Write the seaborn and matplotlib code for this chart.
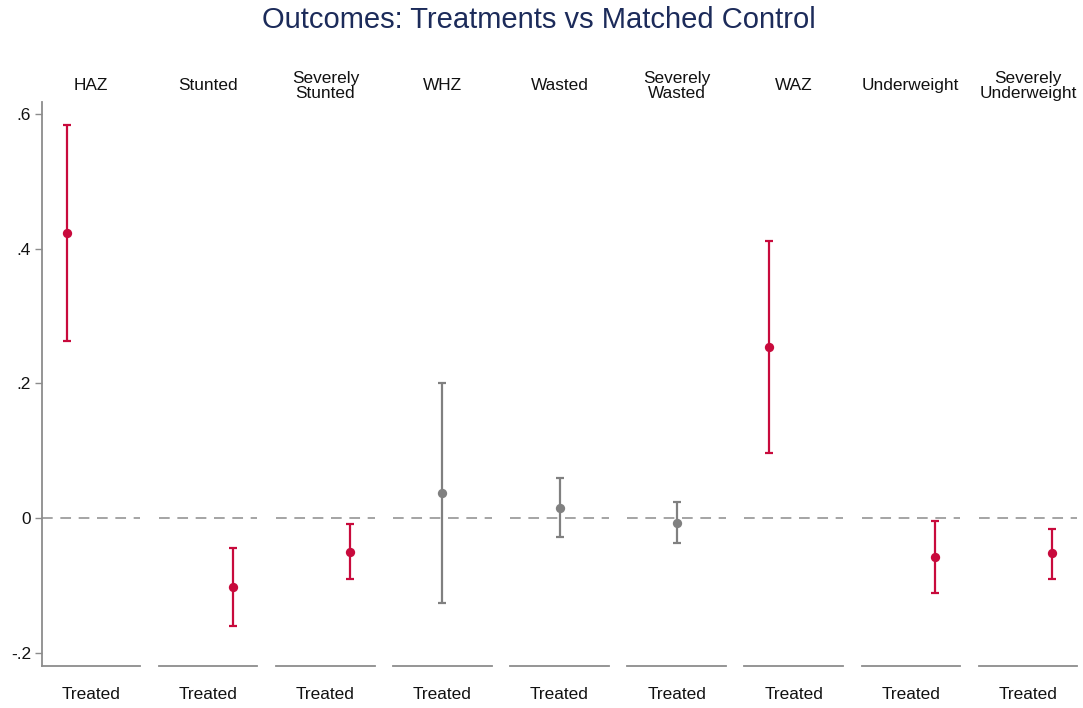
import numpy as np
import pandas as pd
import matplotlib
matplotlib.use("Agg")
import matplotlib.pyplot as plt
import seaborn as sns

# Outcome labels (panel titles), point estimates and 95% confidence bounds
outcomes = ["HAZ", "Stunted", "Severely\nStunted", "WHZ", "Wasted",
            "Severely\nWasted", "WAZ", "Underweight", "Severely\nUnderweight"]
estimates = [0.423, -0.1025, -0.0505, 0.037, 0.0153, -0.0069, 0.254, -0.0574, -0.0525]
ci_low = [0.263, -0.160, -0.0906, -0.1267, -0.0287, -0.0371, 0.0965, -0.111, -0.090]
ci_high = [0.5835, -0.0445, -0.0094, 0.200, 0.0594, 0.0238, 0.411, -0.004, -0.0158]
# Significance group of each estimate
groups = ["pos", "neg", "neg", "ns", "ns", "ns", "pos", "neg", "neg"]
treatment_label = "Treated"
y_ticks = [-0.2, 0, 0.2, 0.4, 0.6]
y_ticklabels = ["-.2", "0", ".2", ".4", ".6"]
title = "Outcomes: Treatments vs Matched Control"

df = pd.DataFrame({"outcome": outcomes, "est": estimates, "lo": ci_low,
                   "hi": ci_high, "group": groups})

sns.set_theme(style="white")
plt.rcParams["font.family"] = ["Liberation Sans", "DejaVu Sans"]

RED = "#C80A3C"
GRAY = "#808080"
AXIS_GRAY = "#8C8C8C"
TEXT = "#111111"
FS = 12.4
colors = {"pos": RED, "neg": RED, "ns": GRAY}
offsets = {"pos": -0.25, "neg": 0.25, "ns": 0.0}

fig, axes = plt.subplots(1, len(outcomes), sharey=True, figsize=(10.83, 7.08), dpi=100)
fig.subplots_adjust(left=0.0388, right=0.9945, top=0.856, bottom=0.0597, wspace=0.19)

for ax, (_, row) in zip(axes, df.iterrows()):
    xpos = offsets[row["group"]]
    col = colors[row["group"]]
    sub = pd.DataFrame({"x": [xpos], "y": [row["est"]]})
    ax.axhline(0, color=AXIS_GRAY, lw=1.1, ls=(0, (7, 5)), zorder=1)
    ax.errorbar([xpos], [row["est"]],
                yerr=[[row["est"] - row["lo"]], [row["hi"] - row["est"]]],
                fmt="none", ecolor=col, elinewidth=1.6, capsize=3.2,
                capthick=1.6, zorder=2)
    sns.scatterplot(data=sub, x="x", y="y", ax=ax, color=col, s=45,
                    edgecolor=col, linewidth=0, zorder=3, legend=False)
    ax.set_xlim(-0.5, 0.5)
    ax.set_ylim(-0.2193, 0.6177)
    ax.set_xticks([0])
    ax.set_xticklabels([treatment_label], fontsize=FS, color=TEXT)
    ax.tick_params(axis="x", length=0, pad=15.5)
    ax.set_xlabel("")
    ax.set_ylabel("")
    # panel heading, centred on a common line above the plot area
    ax.text(0.5, 1.0285, row["outcome"], transform=ax.transAxes, ha="center",
            va="center", fontsize=FS, color=TEXT, linespacing=1.05)
    for side in ["top", "right", "left"]:
        ax.spines[side].set_visible(False)
    ax.spines["bottom"].set_color(AXIS_GRAY)
    ax.spines["bottom"].set_linewidth(1.3)
    ax.grid(False)

ax0 = axes[0]
ax0.spines["left"].set_visible(True)
ax0.spines["left"].set_color(AXIS_GRAY)
ax0.spines["left"].set_linewidth(1.3)
ax0.set_yticks(y_ticks)
ax0.set_yticklabels(y_ticklabels, fontsize=FS, color=TEXT)
ax0.tick_params(axis="y", length=5, width=1, color=AXIS_GRAY, left=True, pad=3)
for ax in axes[1:]:
    ax.tick_params(axis="y", left=False, labelleft=False)

fig.text(0.4975, 1 - 20 / 708, title, fontsize=21, color="#1C2B5A",
         ha="center", va="center")

fig.savefig("out.png", dpi=100)
